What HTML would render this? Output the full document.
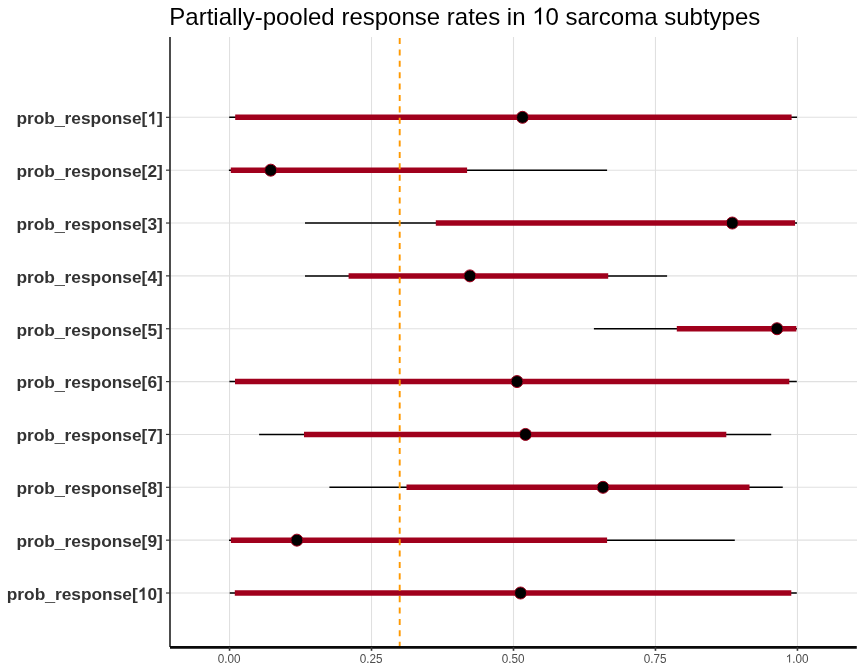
<!DOCTYPE html>
<html><head><meta charset="utf-8"><style>
html,body{margin:0;padding:0;background:#fff;width:864px;height:672px;overflow:hidden}
svg{display:block;will-change:transform;font-family:"Liberation Sans", sans-serif}
</style></head><body>
<svg width="864" height="672" viewBox="0 0 864 672">
<rect width="864" height="672" fill="#fff"/>
<line x1="229.55" y1="37" x2="229.55" y2="647" stroke="#E0E0E0" stroke-width="1.07"/>
<line x1="371.52" y1="37" x2="371.52" y2="647" stroke="#E0E0E0" stroke-width="1.07"/>
<line x1="513.5" y1="37" x2="513.5" y2="647" stroke="#E0E0E0" stroke-width="1.07"/>
<line x1="655.47" y1="37" x2="655.47" y2="647" stroke="#E0E0E0" stroke-width="1.07"/>
<line x1="797.45" y1="37" x2="797.45" y2="647" stroke="#E0E0E0" stroke-width="1.07"/>
<line x1="170" y1="117.32" x2="857" y2="117.32" stroke="#E0E0E0" stroke-width="1.07"/>
<line x1="170" y1="170.17" x2="857" y2="170.17" stroke="#E0E0E0" stroke-width="1.07"/>
<line x1="170" y1="223.03" x2="857" y2="223.03" stroke="#E0E0E0" stroke-width="1.07"/>
<line x1="170" y1="275.88" x2="857" y2="275.88" stroke="#E0E0E0" stroke-width="1.07"/>
<line x1="170" y1="328.74" x2="857" y2="328.74" stroke="#E0E0E0" stroke-width="1.07"/>
<line x1="170" y1="381.59" x2="857" y2="381.59" stroke="#E0E0E0" stroke-width="1.07"/>
<line x1="170" y1="434.44" x2="857" y2="434.44" stroke="#E0E0E0" stroke-width="1.07"/>
<line x1="170" y1="487.30" x2="857" y2="487.30" stroke="#E0E0E0" stroke-width="1.07"/>
<line x1="170" y1="540.15" x2="857" y2="540.15" stroke="#E0E0E0" stroke-width="1.07"/>
<line x1="170" y1="593.01" x2="857" y2="593.01" stroke="#E0E0E0" stroke-width="1.07"/>
<line x1="229.2" y1="117.32" x2="797.1" y2="117.32" stroke="#000" stroke-width="1.5"/>
<line x1="228.9" y1="170.17" x2="607.1" y2="170.17" stroke="#000" stroke-width="1.5"/>
<line x1="305.0" y1="223.03" x2="797.0" y2="223.03" stroke="#000" stroke-width="1.5"/>
<line x1="305.0" y1="275.88" x2="667.1" y2="275.88" stroke="#000" stroke-width="1.5"/>
<line x1="593.9" y1="328.74" x2="797.0" y2="328.74" stroke="#000" stroke-width="1.5"/>
<line x1="229.4" y1="381.59" x2="796.8" y2="381.59" stroke="#000" stroke-width="1.5"/>
<line x1="259.1" y1="434.44" x2="771.2" y2="434.44" stroke="#000" stroke-width="1.5"/>
<line x1="329.4" y1="487.30" x2="782.75" y2="487.30" stroke="#000" stroke-width="1.5"/>
<line x1="229.0" y1="540.15" x2="734.8" y2="540.15" stroke="#000" stroke-width="1.5"/>
<line x1="229.7" y1="593.01" x2="796.8" y2="593.01" stroke="#000" stroke-width="1.5"/>
<line x1="235.2" y1="117.32" x2="791.6" y2="117.32" stroke="#A0001C" stroke-width="5.5"/>
<line x1="230.8" y1="170.17" x2="467.1" y2="170.17" stroke="#A0001C" stroke-width="5.5"/>
<line x1="435.8" y1="223.03" x2="795.05" y2="223.03" stroke="#A0001C" stroke-width="5.5"/>
<line x1="348.6" y1="275.88" x2="608.2" y2="275.88" stroke="#A0001C" stroke-width="5.5"/>
<line x1="676.8" y1="328.74" x2="796.35" y2="328.74" stroke="#A0001C" stroke-width="5.5"/>
<line x1="235.0" y1="381.59" x2="789.3" y2="381.59" stroke="#A0001C" stroke-width="5.5"/>
<line x1="304.0" y1="434.44" x2="726.3" y2="434.44" stroke="#A0001C" stroke-width="5.5"/>
<line x1="406.5" y1="487.30" x2="749.5" y2="487.30" stroke="#A0001C" stroke-width="5.5"/>
<line x1="230.9" y1="540.15" x2="607.1" y2="540.15" stroke="#A0001C" stroke-width="5.5"/>
<line x1="234.8" y1="593.01" x2="791.3" y2="593.01" stroke="#A0001C" stroke-width="5.5"/>
<circle cx="522.5" cy="117.32" r="6.0" fill="#000" stroke="#A0001C" stroke-width="1.0"/>
<circle cx="270.7" cy="170.17" r="6.0" fill="#000" stroke="#A0001C" stroke-width="1.0"/>
<circle cx="732.3" cy="223.03" r="6.0" fill="#000" stroke="#A0001C" stroke-width="1.0"/>
<circle cx="469.9" cy="275.88" r="6.0" fill="#000" stroke="#A0001C" stroke-width="1.0"/>
<circle cx="777.0" cy="328.74" r="6.0" fill="#000" stroke="#A0001C" stroke-width="1.0"/>
<circle cx="517.0" cy="381.59" r="6.0" fill="#000" stroke="#A0001C" stroke-width="1.0"/>
<circle cx="525.5" cy="434.44" r="6.0" fill="#000" stroke="#A0001C" stroke-width="1.0"/>
<circle cx="603.0" cy="487.30" r="6.0" fill="#000" stroke="#A0001C" stroke-width="1.0"/>
<circle cx="296.9" cy="540.15" r="6.0" fill="#000" stroke="#A0001C" stroke-width="1.0"/>
<circle cx="520.55" cy="593.01" r="6.0" fill="#000" stroke="#A0001C" stroke-width="1.0"/>
<line x1="399.7" y1="38" x2="399.7" y2="647" stroke="#FF9900" stroke-width="1.9" stroke-dasharray="6.05 5.34"/>
<line x1="170" y1="37" x2="170" y2="647" stroke="#444444" stroke-width="1.9"/>
<line x1="170" y1="647.4" x2="856.8" y2="647.4" stroke="#0A0A0A" stroke-width="2.7"/>
<line x1="166" y1="117.32" x2="170" y2="117.32" stroke="#333" stroke-width="1.2"/>
<line x1="166" y1="170.17" x2="170" y2="170.17" stroke="#333" stroke-width="1.2"/>
<line x1="166" y1="223.03" x2="170" y2="223.03" stroke="#333" stroke-width="1.2"/>
<line x1="166" y1="275.88" x2="170" y2="275.88" stroke="#333" stroke-width="1.2"/>
<line x1="166" y1="328.74" x2="170" y2="328.74" stroke="#333" stroke-width="1.2"/>
<line x1="166" y1="381.59" x2="170" y2="381.59" stroke="#333" stroke-width="1.2"/>
<line x1="166" y1="434.44" x2="170" y2="434.44" stroke="#333" stroke-width="1.2"/>
<line x1="166" y1="487.30" x2="170" y2="487.30" stroke="#333" stroke-width="1.2"/>
<line x1="166" y1="540.15" x2="170" y2="540.15" stroke="#333" stroke-width="1.2"/>
<line x1="166" y1="593.01" x2="170" y2="593.01" stroke="#333" stroke-width="1.2"/>
<line x1="229.55" y1="647" x2="229.55" y2="650.8" stroke="#333" stroke-width="1.6"/>
<line x1="371.52" y1="647" x2="371.52" y2="650.8" stroke="#333" stroke-width="1.6"/>
<line x1="513.5" y1="647" x2="513.5" y2="650.8" stroke="#333" stroke-width="1.6"/>
<line x1="655.47" y1="647" x2="655.47" y2="650.8" stroke="#333" stroke-width="1.6"/>
<line x1="797.45" y1="647" x2="797.45" y2="650.8" stroke="#333" stroke-width="1.6"/>
<text x="162.8" y="124.22" text-anchor="end" font-family="Liberation Sans" font-weight="bold" font-size="17.33" fill="#333333">prob<tspan dy="1.1" stroke="#333" stroke-width="0.35">_</tspan><tspan dy="-1.1">response[ ]</tspan></text>
<path transform="translate(147.378,124.220) scale(0.008462,-0.008462)" d="M815,0L565,0L565,1040Q461,950 309,890Q254,868 200,852L200,1110Q368,1172 483,1277Q575,1356 615,1466L815,1466Z" fill="#333333"/>
<text x="162.8" y="177.07" text-anchor="end" font-family="Liberation Sans" font-weight="bold" font-size="17.33" fill="#333333">prob<tspan dy="1.1" stroke="#333" stroke-width="0.35">_</tspan><tspan dy="-1.1">response[2]</tspan></text>
<text x="162.8" y="229.93" text-anchor="end" font-family="Liberation Sans" font-weight="bold" font-size="17.33" fill="#333333">prob<tspan dy="1.1" stroke="#333" stroke-width="0.35">_</tspan><tspan dy="-1.1">response[3]</tspan></text>
<text x="162.8" y="282.78" text-anchor="end" font-family="Liberation Sans" font-weight="bold" font-size="17.33" fill="#333333">prob<tspan dy="1.1" stroke="#333" stroke-width="0.35">_</tspan><tspan dy="-1.1">response[4]</tspan></text>
<text x="162.8" y="335.64" text-anchor="end" font-family="Liberation Sans" font-weight="bold" font-size="17.33" fill="#333333">prob<tspan dy="1.1" stroke="#333" stroke-width="0.35">_</tspan><tspan dy="-1.1">response[5]</tspan></text>
<text x="162.8" y="388.49" text-anchor="end" font-family="Liberation Sans" font-weight="bold" font-size="17.33" fill="#333333">prob<tspan dy="1.1" stroke="#333" stroke-width="0.35">_</tspan><tspan dy="-1.1">response[6]</tspan></text>
<text x="162.8" y="441.34" text-anchor="end" font-family="Liberation Sans" font-weight="bold" font-size="17.33" fill="#333333">prob<tspan dy="1.1" stroke="#333" stroke-width="0.35">_</tspan><tspan dy="-1.1">response[7]</tspan></text>
<text x="162.8" y="494.20" text-anchor="end" font-family="Liberation Sans" font-weight="bold" font-size="17.33" fill="#333333">prob<tspan dy="1.1" stroke="#333" stroke-width="0.35">_</tspan><tspan dy="-1.1">response[8]</tspan></text>
<text x="162.8" y="547.05" text-anchor="end" font-family="Liberation Sans" font-weight="bold" font-size="17.33" fill="#333333">prob<tspan dy="1.1" stroke="#333" stroke-width="0.35">_</tspan><tspan dy="-1.1">response[9]</tspan></text>
<text x="162.8" y="599.91" text-anchor="end" font-family="Liberation Sans" font-weight="bold" font-size="17.33" fill="#333333">prob<tspan dy="1.1" stroke="#333" stroke-width="0.35">_</tspan><tspan dy="-1.1">response[ 0]</tspan></text>
<path transform="translate(137.738,599.906) scale(0.008462,-0.008462)" d="M815,0L565,0L565,1040Q461,950 309,890Q254,868 200,852L200,1110Q368,1172 483,1277Q575,1356 615,1466L815,1466Z" fill="#333333"/>
<text x="229.25" y="662.6" text-anchor="middle" font-family="Liberation Sans" font-size="11.73" fill="#4D4D4D" transform="translate(0,662.6) scale(1,1.04) translate(0,-662.6)">0.00</text>
<text x="371.22" y="662.6" text-anchor="middle" font-family="Liberation Sans" font-size="11.73" fill="#4D4D4D" transform="translate(0,662.6) scale(1,1.04) translate(0,-662.6)">0.25</text>
<text x="513.20" y="662.6" text-anchor="middle" font-family="Liberation Sans" font-size="11.73" fill="#4D4D4D" transform="translate(0,662.6) scale(1,1.04) translate(0,-662.6)">0.50</text>
<text x="655.17" y="662.6" text-anchor="middle" font-family="Liberation Sans" font-size="11.73" fill="#4D4D4D" transform="translate(0,662.6) scale(1,1.04) translate(0,-662.6)">0.75</text>
<text x="797.15" y="662.6" text-anchor="middle" font-family="Liberation Sans" font-size="11.73" fill="#4D4D4D" transform="translate(0,662.6) scale(1,1.04) translate(0,-662.6)"> .00</text>
<path transform="translate(785.744,662.600) scale(0.005728,-0.005728)" d="M763,0L583,0L583,1147Q518,1085 412,1023Q306,961 222,930L222,1104Q373,1175 486,1276Q599,1377 646,1466L763,1466Z" fill="#4D4D4D"/>
<text x="169.3" y="24.6" font-family="Liberation Sans" font-size="24" fill="#000">Partially-pooled response rates in  0 sarcoma subtypes</text>
<path transform="translate(532.159,24.600) scale(0.011719,-0.011719)" d="M763,0L583,0L583,1147Q518,1085 412,1023Q306,961 222,930L222,1104Q373,1175 486,1276Q599,1377 646,1466L763,1466Z" fill="#000"/>
</svg>
</body></html>
